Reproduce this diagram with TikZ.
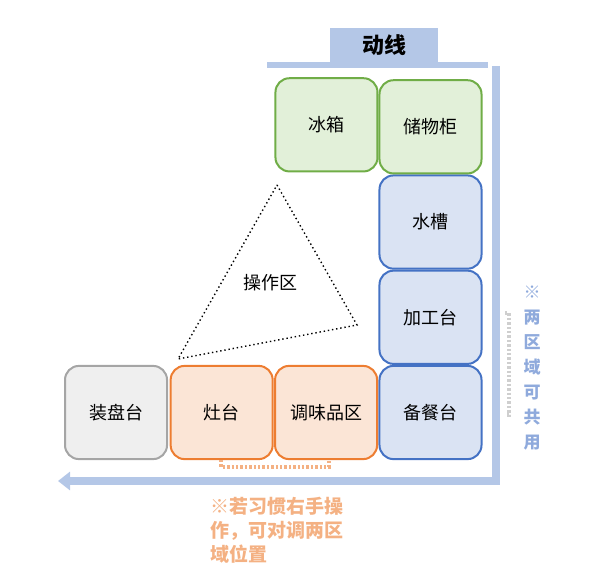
\documentclass[tikz,border=0pt]{standalone}
\usepackage{fontspec}
\setmainfont{Noto Sans CJK SC}
\usepackage{tikz}
\usetikzlibrary{positioning,arrows.meta}
\definecolor{grnfill}{HTML}{E2F0D9}
\definecolor{grnline}{HTML}{70AD47}
\definecolor{bluefill}{HTML}{DAE3F3}
\definecolor{blueline}{HTML}{4472C4}
\definecolor{orgfill}{HTML}{FBE5D6}
\definecolor{orgline}{HTML}{ED7D31}
\definecolor{grayfill}{HTML}{EFEFEF}
\definecolor{grayline}{HTML}{A5A5A5}
\definecolor{flowblue}{HTML}{B4C7E7}
\definecolor{notegray}{HTML}{CFCFCF}
\definecolor{noteorg}{HTML}{F4B183}
\definecolor{noteblue}{HTML}{8FAADC}

\begin{document}
\begin{tikzpicture}[x=0.025cm, y=-0.025cm,
  zone/.style={draw, rounded corners=0.35cm, line width=0.05cm, minimum width=2.55cm, minimum height=2.33cm, inner sep=0pt, font=\fontsize{12.8}{15}\selectfont},
  greenz/.style={zone, fill=grnfill, draw=grnline},
  bluez/.style={zone, fill=bluefill, draw=blueline},
  orangez/.style={zone, fill=orgfill, draw=orgline},
  grayz/.style={zone, fill=grayfill, draw=grayline},
  bracket/.style={line width=0.08cm, dash pattern=on 0.06cm off 0.05cm}]
\useasboundingbox (0,0) rectangle (604,584);

\node[bluez] (serve) at (430.5,412.5) {备餐台};
\node[bluez, above=0pt of serve] (prep) {加工台};
\node[bluez, above=0pt of prep] (sink) {水槽};
\node[greenz, above=0pt of sink] (cab) {储物柜};
\node[greenz, left=0pt of cab, yshift=0.05cm] (fridge) {冰箱};
\node[orangez, left=0.01cm of serve] (spice) {调味品区};
\node[orangez, left=0.01cm of spice] (stove) {灶台};
\node[grayz, left=0.04cm of stove] (plate) {装盘台};

\node[fill=flowblue, minimum width=2.7cm, minimum height=0.85cm, font=\fontsize{15.6}{18}\selectfont\bfseries] (flow) at (384,45) {动线};
\coordinate (barl) at (267,65);
\coordinate (barr) at (488,65);
\draw[flowblue, line width=0.15cm] (barl) -- (barr);

\coordinate (flowtop) at (496,66);
\coordinate (flowturn) at (496,481);
\coordinate (flowend) at (58,481);
\draw[->, >={Triangle[width=0.45cm,length=0.3cm]}, line width=0.2cm, flowblue] (flowtop) -- (flowturn) -- (flowend);

\coordinate (tritop) at (277,185);
\coordinate (triright) at (357,325);
\coordinate (trileft) at (178,359);
\draw[dotted, line width=0.035cm] (tritop) -- (triright) -- (trileft) -- cycle;
\node[font=\fontsize{12.8}{15}\selectfont] (ops) at (270,283) {操作区};

\draw[bracket, notegray] (505,313) -- (509,313) -- (509,415) -- (505,415);
\node[text=noteblue, align=center, font=\fontsize{12.1}{17.8}\selectfont\bfseries] (share) at (532,368) {※\\两\\区\\域\\可\\共\\用};

\draw[bracket, noteorg] (221,460) -- (221,467) -- (329,467) -- (329,460);
\node[text=noteorg, align=left, anchor=north west, inner sep=0pt, font=\fontsize{13.5}{17}\selectfont\bfseries] (swap) at (210,497) {※若习惯右手操\\作，可对调两区\\域位置};
\end{tikzpicture}
\end{document}
